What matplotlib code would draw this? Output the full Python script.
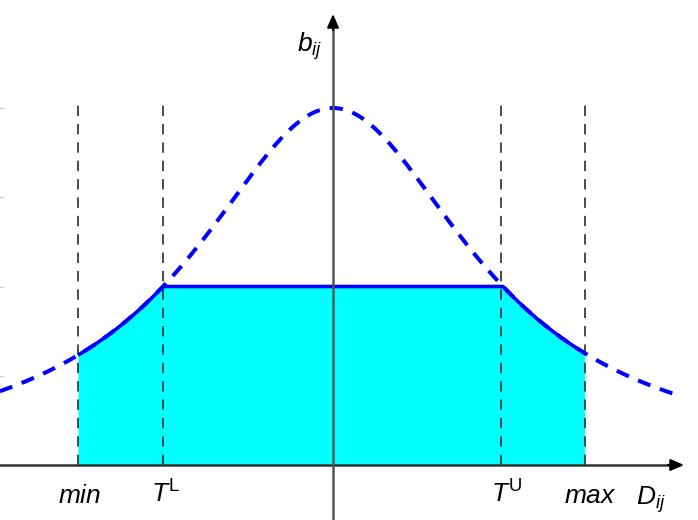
import numpy as np
import matplotlib
matplotlib.use("Agg")
import matplotlib.pyplot as plt

plt.rcParams['font.family'] = ['Liberation Sans', 'DejaVu Sans']
plt.rcParams['mathtext.fontset'] = 'custom'
plt.rcParams['mathtext.rm'] = 'Liberation Sans'
plt.rcParams['mathtext.it'] = 'Liberation Sans:italic'

# ---- values (in units: x relative to curve width, y relative to peak) ----
x_min, x_TL, x_TU, x_max = -1.5, -1.0, 0.99, 1.48
peak = 1.0
width = 1.0
plateau = 0.5
vline_top = 1.02
curve_range = (-1.96, 2.04)
tick_levels = [0.25, 0.5, 0.75, 1.0]
tick_labels = [r'$\mathit{min}$', r'$T^{\mathrm{L}}$', r'$T^{\mathrm{U}}$', r'$\mathit{max}$']

PX = 170.0   # pixels per x unit
PY = 357.0   # pixels per y unit
X0, Y0 = 333.0, 465.0

fig = plt.figure(figsize=(6.98, 5.20), dpi=100)
ax = fig.add_axes([0, 0, 1, 1])
ax.set_xlim(-X0 / PX, (698 - X0) / PX)
ax.set_ylim(-(520 - Y0) / PY, Y0 / PY)
ax.axis('off')

def curve(x):
    return peak / (1 + (x / width) ** 2)

xs = np.linspace(curve_range[0], curve_range[1], 800)

# fill
xf = np.linspace(x_min, x_max, 600)
yf = np.minimum(curve(xf), plateau)
ax.fill_between(xf, 0, yf, color='#00FFFF', zorder=1, lw=0)

# vertical dashed lines
for xv in [x_min, x_TL, x_TU, x_max]:
    ax.plot([xv, xv], [0, vline_top], color='#222222', lw=1.15,
            dashes=(6.5, 5), zorder=2)

# dashed curve
ax.plot(xs, curve(xs), color='#0000FF', lw=2.9, dashes=(3.3, 2.5),
        zorder=3, dash_capstyle='butt')
# solid boundary
ax.plot(xf, yf, color='#0000FF', lw=2.6, zorder=4, solid_capstyle='butt',
        solid_joinstyle='round')

# axes
ax.plot([-X0 / PX, (672 - X0) / PX], [0, 0], color='#333333', lw=1.8, zorder=5)
ax.plot([0, 0], [-(520 - Y0) / PY, (Y0 - 28) / PY], color='#555555', lw=1.8, zorder=5)
ax.annotate('', xy=((684 - X0) / PX, 0), xytext=((668 - X0) / PX, 0),
            arrowprops=dict(arrowstyle='-|>,head_length=0.8,head_width=0.35',
                            color='black', lw=1.5, shrinkA=0, shrinkB=0),
            zorder=6)
ax.annotate('', xy=(0, (Y0 - 14) / PY), xytext=(0, (Y0 - 30) / PY),
            arrowprops=dict(arrowstyle='-|>,head_length=0.8,head_width=0.35',
                            color='black', lw=1.5, shrinkA=0, shrinkB=0),
            zorder=6)

# faint ticks on the left edge
for t in tick_levels:
    ax.plot([-X0 / PX, (3 - X0) / PX], [t, t], color='#cccccc', lw=1, zorder=2)

# tick labels
label_x_px = [80, 166, 507, 590]
for lab, px in zip(tick_labels, label_x_px):
    ax.text((px - X0) / PX, -38 / PY, lab, ha='center', va='baseline',
            fontsize=19, color='black')

ax.text((651 - X0) / PX, -40 / PY, r'$D_{ij}$', ha='center', va='baseline',
        fontsize=19, color='black')
ax.text((310 - X0) / PX, (Y0 - 52) / PY, r'$b_{ij}$', ha='center', va='baseline',
        fontsize=19, color='black')

fig.savefig('out.png', dpi=100)
